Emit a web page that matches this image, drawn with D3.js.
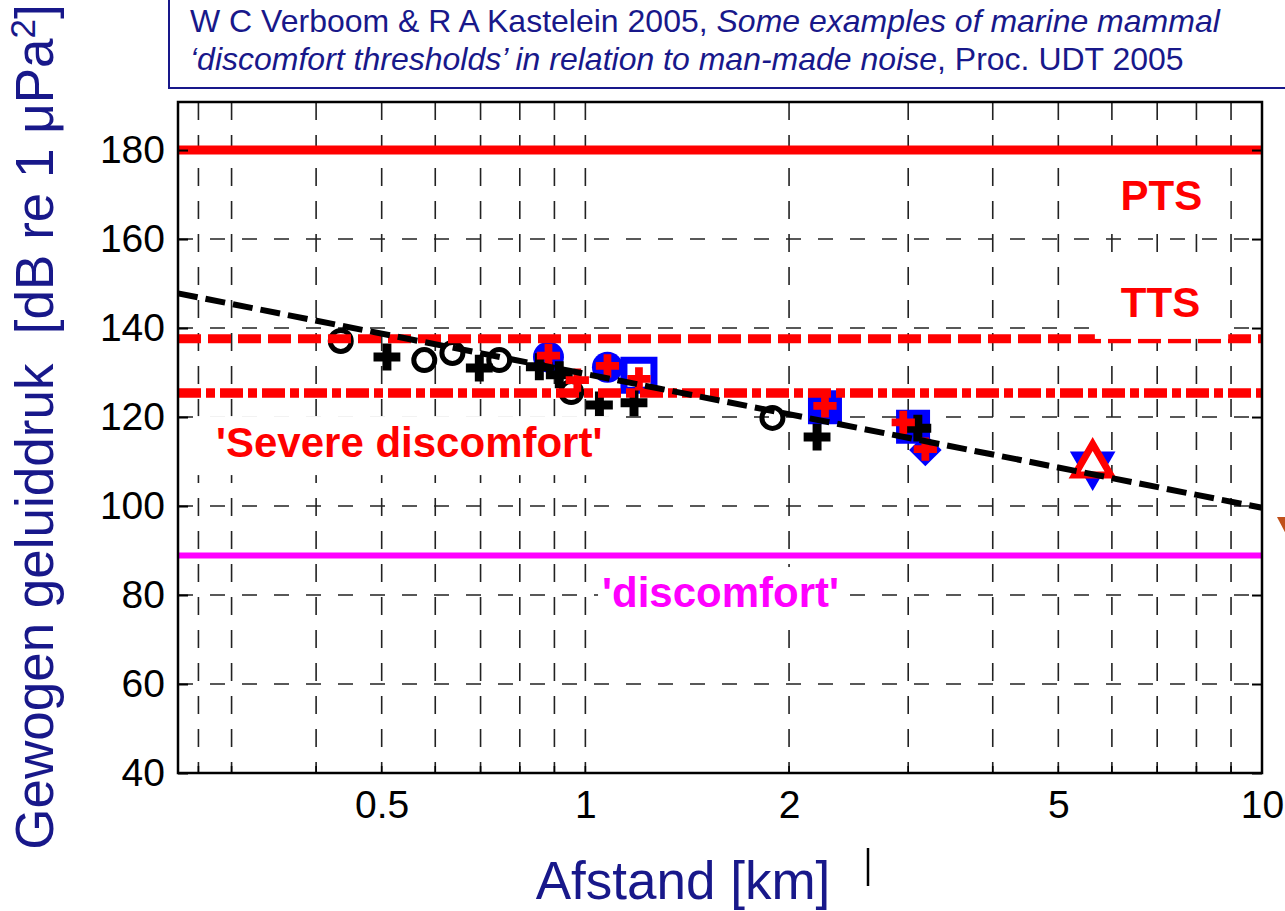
<!DOCTYPE html>
<html>
<head>
<meta charset="utf-8">
<script src="https://cdn.jsdelivr.net/npm/d3@7"></script>
<style>
  body { margin: 0; background: #fff; }
  svg { display: block; font-family: "Liberation Sans", Arial, Helvetica, sans-serif; }
</style>
</head>
<body>
<svg id="chart" width="1285" height="911"></svg>
<script>
// values (distance in km, level in dB)
const xTickValues = [0.5, 1, 2, 5, 10];
const yTickValues = [40, 60, 80, 100, 120, 140, 160, 180];
const xGridValues = [0.268, 0.3, 0.4, 0.5, 0.6, 0.7, 0.8, 0.9, 1, 2, 3, 4, 5, 6, 7, 8, 9];
const yGridValues = [60, 80, 100, 120, 140, 160];

const ptsLevel = 180;
const ttsLevel = 137.6;
const severeLevel = 125.4;
const discomfortLevel = 88.9;

const blackCircles = [[0.435, 137.1], [0.578, 132.8], [0.636, 134.4], [0.746, 132.8], [0.953, 125.6], [1.89, 119.8]];
const blackPlus = [[0.509, 133.5], [0.697, 131.0], [0.855, 131.3], [0.915, 129.5], [1.049, 122.7], [1.18, 123.2], [2.2, 115.5], [3.1, 117.5]];
const blueCircles = [[0.882, 133.5], [1.078, 131.2]];
const blueSquaresOpen = [[1.2, 129.4]];
const blueSquares = [[2.26, 122.2], [3.05, 117.8]];
const blueDiamonds = [[3.18, 112.6]];
const blueDownTriangles = [[5.62, 109.3]];
const redUpTriangles = [[5.62, 109.3]];
const redPlus = [[0.882, 133.8], [1.078, 131.5], [0.973, 128.3], [1.2, 128.6], [2.26, 122.5], [2.95, 118.8], [3.18, 112.8]];
const trendLine = [[0.25, 147.8], [10, 99.6]];

const labels = [
  { key: "pts", text: "PTS", r: 7.1, L: 166.5 },
  { key: "tts", text: "TTS", r: 7.08, L: 142.5 },
  { key: "severe", text: "'Severe discomfort'", r: 0.2845, L: 111.0 },
  { key: "disc", text: "'discomfort'", r: 1.584, L: 77.3 }
];

const navy = "#18188a";
const svg = d3.select("#chart");
const margin = { top: 102, right: 23, bottom: 138, left: 178 };
const W = 1285, H = 911;

const x = d3.scaleLog().domain([0.25, 10]).range([margin.left, W - margin.right]);
const y = d3.scaleLinear().domain([40, 190.8]).range([H - margin.bottom, margin.top]);
const x0 = x.range()[0], x1 = x.range()[1];
const yb = y.range()[0], yt = y.range()[1];

// title box
svg.append("rect").attr("x", 169).attr("y", -3).attr("width", 1200).attr("height", 91)
  .attr("fill", "#fff").attr("stroke", navy).attr("stroke-width", 2);
const title = svg.append("g").attr("fill", navy).attr("font-size", 32);
const t1 = title.append("text").attr("x", 190).attr("y", 32).style("white-space", "pre");
t1.append("tspan").text("W C Verboom & R A Kastelein 2005, ");
t1.append("tspan").attr("font-style", "italic").text("Some examples of marine mammal");
const t2 = title.append("text").attr("x", 190).attr("y", 70).style("white-space", "pre");
t2.append("tspan").attr("font-style", "italic").text("\u2018discomfort thresholds\u2019 in relation to man-made noise");
t2.append("tspan").text(", Proc. UDT 2005");

// grid
const grid = svg.append("g").attr("stroke", "#222").attr("stroke-width", 1.6);
grid.selectAll(".gx").data(xGridValues).join("line")
  .attr("x1", d => x(d)).attr("x2", d => x(d)).attr("y1", yt).attr("y2", yb)
  .attr("stroke-dasharray", "18,15");
grid.selectAll(".gy").data(yGridValues).join("line")
  .attr("x1", x0).attr("x2", x1).attr("y1", d => y(d)).attr("y2", d => y(d))
  .attr("stroke-dasharray", "15,17");

// markers
const marks = svg.append("g");
const sym = (type, size) => d3.symbol().type(type).size(size)();
const at = d => `translate(${x(d[0])},${y(d[1])})`;

marks.selectAll(".bcirc").data(blueCircles).join("circle")
  .attr("cx", d => x(d[0])).attr("cy", d => y(d[1])).attr("r", 15.5).attr("fill", "#0000ff");
marks.selectAll(".bsq").data(blueSquares).join("path")
  .attr("d", sym(d3.symbolSquare, 1156)).attr("transform", at).attr("fill", "#0000ff");
marks.selectAll(".bsqo").data(blueSquaresOpen).join("path")
  .attr("d", sym(d3.symbolSquare, 900)).attr("transform", at)
  .attr("fill", "#fff").attr("stroke", "#0000ff").attr("stroke-width", 7);
marks.selectAll(".bdia").data(blueDiamonds).join("path")
  .attr("d", sym(d3.symbolSquare, 530)).attr("transform", d => at(d) + " rotate(45)").attr("fill", "#0000ff");
marks.selectAll(".btri").data(blueDownTriangles).join("path")
  .attr("d", sym(d3.symbolTriangle, 900)).attr("transform", d => at(d) + " rotate(180)").attr("fill", "#0000ff");
marks.selectAll(".rtri").data(redUpTriangles).join("path")
  .attr("d", sym(d3.symbolTriangle, 560)).attr("transform", at)
  .attr("fill", "#fff").attr("stroke", "#ff0000").attr("stroke-width", 7);
marks.selectAll(".kcirc").data(blackCircles).join("circle")
  .attr("cx", d => x(d[0])).attr("cy", d => y(d[1])).attr("r", 10.5)
  .attr("fill", "none").attr("stroke", "#000").attr("stroke-width", 5);
marks.selectAll(".kplus").data(blackPlus).join("path")
  .attr("d", sym(d3.symbolCross, 400)).attr("transform", at).attr("fill", "#000");
marks.selectAll(".rplus").data(redPlus).join("path")
  .attr("d", sym(d3.symbolCross, 300)).attr("transform", at).attr("fill", "#ff0000");

// threshold lines
const hline = (lvl, color, width, dash) => svg.append("line")
  .attr("x1", x0).attr("x2", x1).attr("y1", y(lvl)).attr("y2", y(lvl))
  .attr("stroke", color).attr("stroke-width", width).attr("stroke-dasharray", dash);
hline(ptsLevel, "#ff0000", 9, null);
hline(ttsLevel, "#ff0000", 9, "23,7");
hline(severeLevel, "#ff0000", 9.5, "23,5,9,5");
hline(discomfortLevel, "#ff00ff", 6, null);

// labels with white boxes behind them
const labelStyle = {
  pts:    { fill: "#ff0000", anchor: "middle", pad: [26, 28, 20, 22] },
  tts:    { fill: "#ff0000", anchor: "middle", pad: [26, 28, 20, 22] },
  severe: { fill: "#ff0000", anchor: "start",  pad: [20, 20, 11, 18] },
  disc:   { fill: "#ff00ff", anchor: "middle", pad: [4, 4, 10, 13] }
};
const lab = svg.append("g").attr("font-size", 42).attr("font-weight", "bold");
labels.forEach(l => {
  const s = labelStyle[l.key];
  const g = lab.append("g");
  const bg = g.append("rect").attr("fill", "#fff");
  const t = g.append("text").attr("x", x(l.r)).attr("y", y(l.L))
    .attr("text-anchor", s.anchor).attr("fill", s.fill).text(l.text);
  const b = t.node().getBBox();
  const capTop = y(l.L) - 30;
  bg.attr("x", b.x - s.pad[0]).attr("y", capTop - s.pad[2])
    .attr("width", b.width + s.pad[0] + s.pad[1]).attr("height", y(l.L) - capTop + s.pad[2] + s.pad[3]);
});

// trend line
svg.append("path").datum(trendLine)
  .attr("d", d3.line().x(d => x(d[0])).y(d => y(d[1])))
  .attr("fill", "none").attr("stroke", "#000").attr("stroke-width", 6).attr("stroke-dasharray", "20,8");

// axes
const yAxis = svg.append("g").attr("transform", `translate(${x0},0)`)
  .call(d3.axisLeft(y).tickValues(yTickValues).tickSize(-10).tickPadding(13));
const yAxisR = svg.append("g").attr("transform", `translate(${x1},0)`)
  .call(d3.axisRight(y).tickValues(yTickValues).tickSize(-10).tickFormat(""));
const xAxis = svg.append("g").attr("transform", `translate(0,${yb})`)
  .call(d3.axisBottom(x).tickValues(xTickValues).tickFormat(d3.format("~g")).tickSize(0).tickPadding(17));
[yAxis, yAxisR, xAxis].forEach(a => {
  a.select(".domain").remove();
  a.selectAll("line").attr("stroke", "#000").attr("stroke-width", 2);
  a.selectAll("text").attr("fill", "#000").attr("font-size", 39)
    .attr("font-family", "'Liberation Sans', Arial, Helvetica, sans-serif");
});
// minor log ticks inside bottom
svg.append("g").selectAll("line").data(xGridValues).join("line")
  .attr("x1", d => x(d)).attr("x2", d => x(d)).attr("y1", yb).attr("y2", yb - 7)
  .attr("stroke", "#000").attr("stroke-width", 1.6);

// frame
svg.append("rect").attr("x", x0).attr("y", yt).attr("width", x1 - x0).attr("height", yb - yt)
  .attr("fill", "none").attr("stroke", "#000").attr("stroke-width", 2.5);

// axis titles
svg.append("text").attr("x", 683).attr("y", 899).attr("text-anchor", "middle")
  .attr("font-size", 53).attr("fill", navy).text("Afstand [km]");
const yl = svg.append("text").attr("transform", "translate(53,427) rotate(-90)")
  .attr("text-anchor", "middle").attr("font-size", 53).attr("fill", navy).style("white-space", "pre");
yl.append("tspan").text("Gewogen geluiddruk  [dB re 1 \u03bcPa");
yl.append("tspan").attr("font-size", 35).attr("dy", -18).text("2");
yl.append("tspan").attr("dy", 18).text("]");

// stray marks at the edges of the slide
svg.append("line").attr("x1", 868).attr("x2", 868).attr("y1", 848).attr("y2", 886)
  .attr("stroke", "#000").attr("stroke-width", 2.5);
svg.append("path").attr("d", "M1277,517 L1290,517 L1287,536 Z").attr("fill", "#c0501a");
</script>
</body>
